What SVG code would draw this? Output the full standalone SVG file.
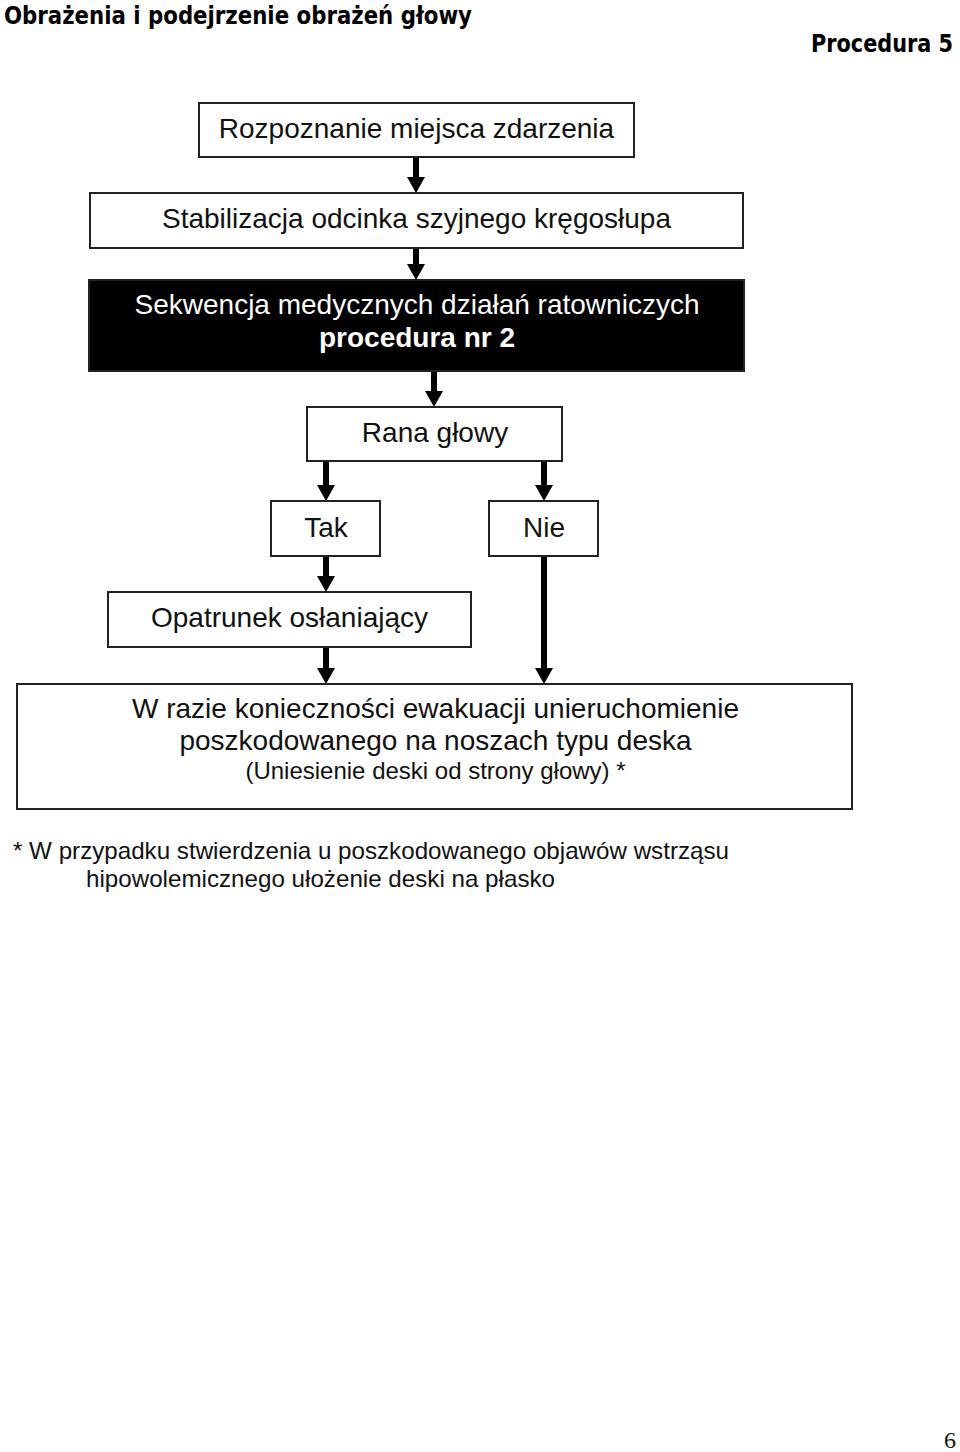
<svg xmlns="http://www.w3.org/2000/svg" width="960" height="1452" viewBox="0 0 960 1452">
<style>
.box{fill:#fff;stroke:#222;stroke-width:2}
.dark{fill:#000;stroke:#222;stroke-width:2}
.t{font-family:"Liberation Sans",Arial,sans-serif;font-size:28px;fill:#111;text-anchor:middle}
.w{fill:#fff}
.b{font-weight:bold}
.head{font-family:"DejaVu Sans",Verdana,sans-serif;font-weight:bold;font-size:24px;fill:#000}
.fn{font-family:"Liberation Sans",Arial,sans-serif;font-size:24px;fill:#111}
.conn{stroke:#000;stroke-width:6;fill:none;marker-end:url(#ah)}
</style>
<defs>
<marker id="ah" viewBox="0 0 16 18" refX="0" refY="9" markerWidth="16" markerHeight="18" markerUnits="userSpaceOnUse" orient="auto">
<path d="M0,0 L16,9 L0,18 z" fill="#000"/>
</marker>
</defs>
<rect width="960" height="1452" fill="#fff"/>
<text class="head" x="4" y="24" textLength="468" lengthAdjust="spacingAndGlyphs">Obrażenia i podejrzenie obrażeń głowy</text>
<text class="head" x="811" y="52" textLength="142" lengthAdjust="spacingAndGlyphs">Procedura 5</text>

<g id="connectors">
<line class="conn" x1="416" y1="157" x2="416" y2="177"/>
<line class="conn" x1="416" y1="248" x2="416" y2="264"/>
<line class="conn" x1="434" y1="371" x2="434" y2="391"/>
<line class="conn" x1="326" y1="461" x2="326" y2="485"/>
<line class="conn" x1="544" y1="461" x2="544" y2="485"/>
<line class="conn" x1="326" y1="556" x2="326" y2="576"/>
<line class="conn" x1="326" y1="647" x2="326" y2="668"/>
<line class="conn" x1="544" y1="556" x2="544" y2="668"/>
</g>

<g id="n1"><rect class="box" x="199" y="103" width="435" height="54"/><text class="t" x="416.5" y="138">Rozpoznanie miejsca zdarzenia</text></g>
<g id="n2"><rect class="box" x="90" y="193" width="653" height="55"/><text class="t" x="416.5" y="228">Stabilizacja odcinka szyjnego kręgosłupa</text></g>
<g id="n3"><rect class="dark" x="89" y="280" width="655" height="91"/><text class="t w" x="417" y="314">Sekwencja medycznych działań ratowniczych</text><text class="t w b" x="417" y="347">procedura nr 2</text></g>
<g id="n4"><rect class="box" x="307" y="407" width="255" height="54"/><text class="t" x="435" y="442">Rana głowy</text></g>
<g id="n5"><rect class="box" x="271" y="501" width="109" height="55"/><text class="t" x="326" y="537">Tak</text></g>
<g id="n6"><rect class="box" x="489" y="501" width="109" height="55"/><text class="t" x="544" y="537">Nie</text></g>
<g id="n7"><rect class="box" x="108" y="592" width="363" height="55"/><text class="t" x="289.5" y="627">Opatrunek osłaniający</text></g>
<g id="n8"><rect class="box" x="17" y="684" width="835" height="125"/>
<text class="t" x="435.5" y="718">W razie konieczności ewakuacji unieruchomienie</text>
<text class="t" x="435.5" y="750">poszkodowanego na noszach typu deska</text>
<text class="t" x="435.5" y="779" style="font-size:24px">(Uniesienie deski od strony głowy) *</text></g>

<text class="fn" x="13" y="859" textLength="716" lengthAdjust="spacingAndGlyphs">* W przypadku stwierdzenia u poszkodowanego objawów wstrząsu</text>
<text class="fn" x="86" y="887" textLength="469" lengthAdjust="spacingAndGlyphs">hipowolemicznego ułożenie deski na płasko</text>
<text x="956" y="1448" text-anchor="end" style="font-family:'Liberation Serif','Times New Roman',serif;font-size:24px;fill:#111">6</text>
</svg>
